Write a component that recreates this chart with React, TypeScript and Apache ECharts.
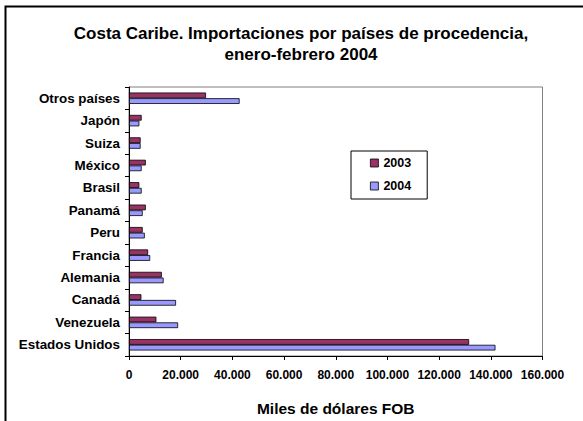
import React, { useEffect, useRef } from "react";
import * as echarts from "echarts";

const categories = [
  "Estados Unidos",
  "Venezuela",
  "Canadá",
  "Alemania",
  "Francia",
  "Peru",
  "Panamá",
  "Brasil",
  "México",
  "Suiza",
  "Japón",
  "Otros países",
];
const values2003 = [131600, 10600, 4800, 12700, 7400, 5300, 6500, 4000, 6500, 4500, 4900, 29800];
const values2004 = [141800, 19000, 18200, 13400, 8200, 6100, 5300, 4900, 4900, 4500, 4000, 42800];
const titleText = "Costa Caribe. Importaciones por países de procedencia,\nenero-febrero 2004";
const axisName = "Miles de dólares FOB";

function fmt(v: number): string {
  return String(Math.round(v)).replace(/\B(?=(\d{3})+(?!\d))/g, ".");
}

export default function App() {
  const ref = useRef<HTMLDivElement>(null);
  useEffect(() => {
    if (!ref.current) return;
    const chart = echarts.init(ref.current, undefined, { renderer: "svg" });
    const font = "Liberation Sans, Arial, sans-serif";
    chart.setOption({
      animation: false,
      backgroundColor: "#ffffff",
      textStyle: { fontFamily: font },
      title: {
        text: titleText,
        left: 296,
        textAlign: "center",
        top: 18,
        textStyle: { fontSize: 17, fontWeight: "bold", color: "#000", lineHeight: 21, fontFamily: font },
      },
      legend: {
        data: ["2003", "2004"],
        orient: "vertical",
        left: 351,
        top: 151,
        padding: [5, 16, 6, 19],
        itemGap: 9,
        itemWidth: 8,
        itemHeight: 8,
        icon: "rect",
        borderColor: "#000",
        borderWidth: 1,
        backgroundColor: "#fff",
        textStyle: { fontSize: 12.5, fontWeight: "bold", color: "#000", lineHeight: 14, fontFamily: font },
        itemStyle: { borderColor: "#000", borderWidth: 0.8 },
      },
      grid: {
        left: 129,
        right: 40.5,
        top: 87,
        bottom: 62.7,
        show: true,
        borderColor: "#808080",
        borderWidth: 1,
        containLabel: false,
      },
      xAxis: {
        type: "value",
        min: 0,
        max: 160000,
        interval: 20000,
        name: axisName,
        nameLocation: "middle",
        nameGap: 44,
        nameTextStyle: { fontSize: 15.5, fontWeight: "bold", color: "#000", fontFamily: font },
        axisLine: { show: true, lineStyle: { color: "#000", width: 1 } },
        axisTick: { show: true, length: 4, lineStyle: { color: "#000" } },
        splitLine: { show: false },
        axisLabel: {
          formatter: (v: number) => fmt(v),
          fontSize: 12,
          fontWeight: "bold",
          color: "#000",
          margin: 13,
          fontFamily: font,
        },
      },
      yAxis: {
        type: "category",
        data: categories,
        axisLine: { show: true, lineStyle: { color: "#000", width: 1 } },
        axisTick: { show: true, length: 4, alignWithLabel: false, lineStyle: { color: "#000" } },
        axisLabel: { fontSize: 13.4, fontWeight: "bold", color: "#000", margin: 9, fontFamily: font },
        splitLine: { show: false },
      },
      series: [
        {
          name: "2003",
          type: "bar",
          data: values2003,
          barGap: "0%",
          barCategoryGap: "49%",
          itemStyle: { color: "#993366", borderColor: "#000", borderWidth: 0.8 },
        },
        {
          name: "2004",
          type: "bar",
          data: values2004,
          barGap: "0%",
          barCategoryGap: "49%",
          itemStyle: { color: "#9999FF", borderColor: "#000", borderWidth: 0.8 },
        },
      ],
      graphic: [
        {
          type: "polyline",
          shape: { points: [[5.5, 421], [5.5, 6.5], [583, 6.5]] },
          style: { stroke: "#000", lineWidth: 2, fill: null },
          silent: true,
        },
      ],
    });
    return () => chart.dispose();
  }, []);
  return (
    <div
      ref={ref}
      style={{ position: "fixed", left: 0, top: 0, width: 583, height: 421 }}
    />
  );
}
